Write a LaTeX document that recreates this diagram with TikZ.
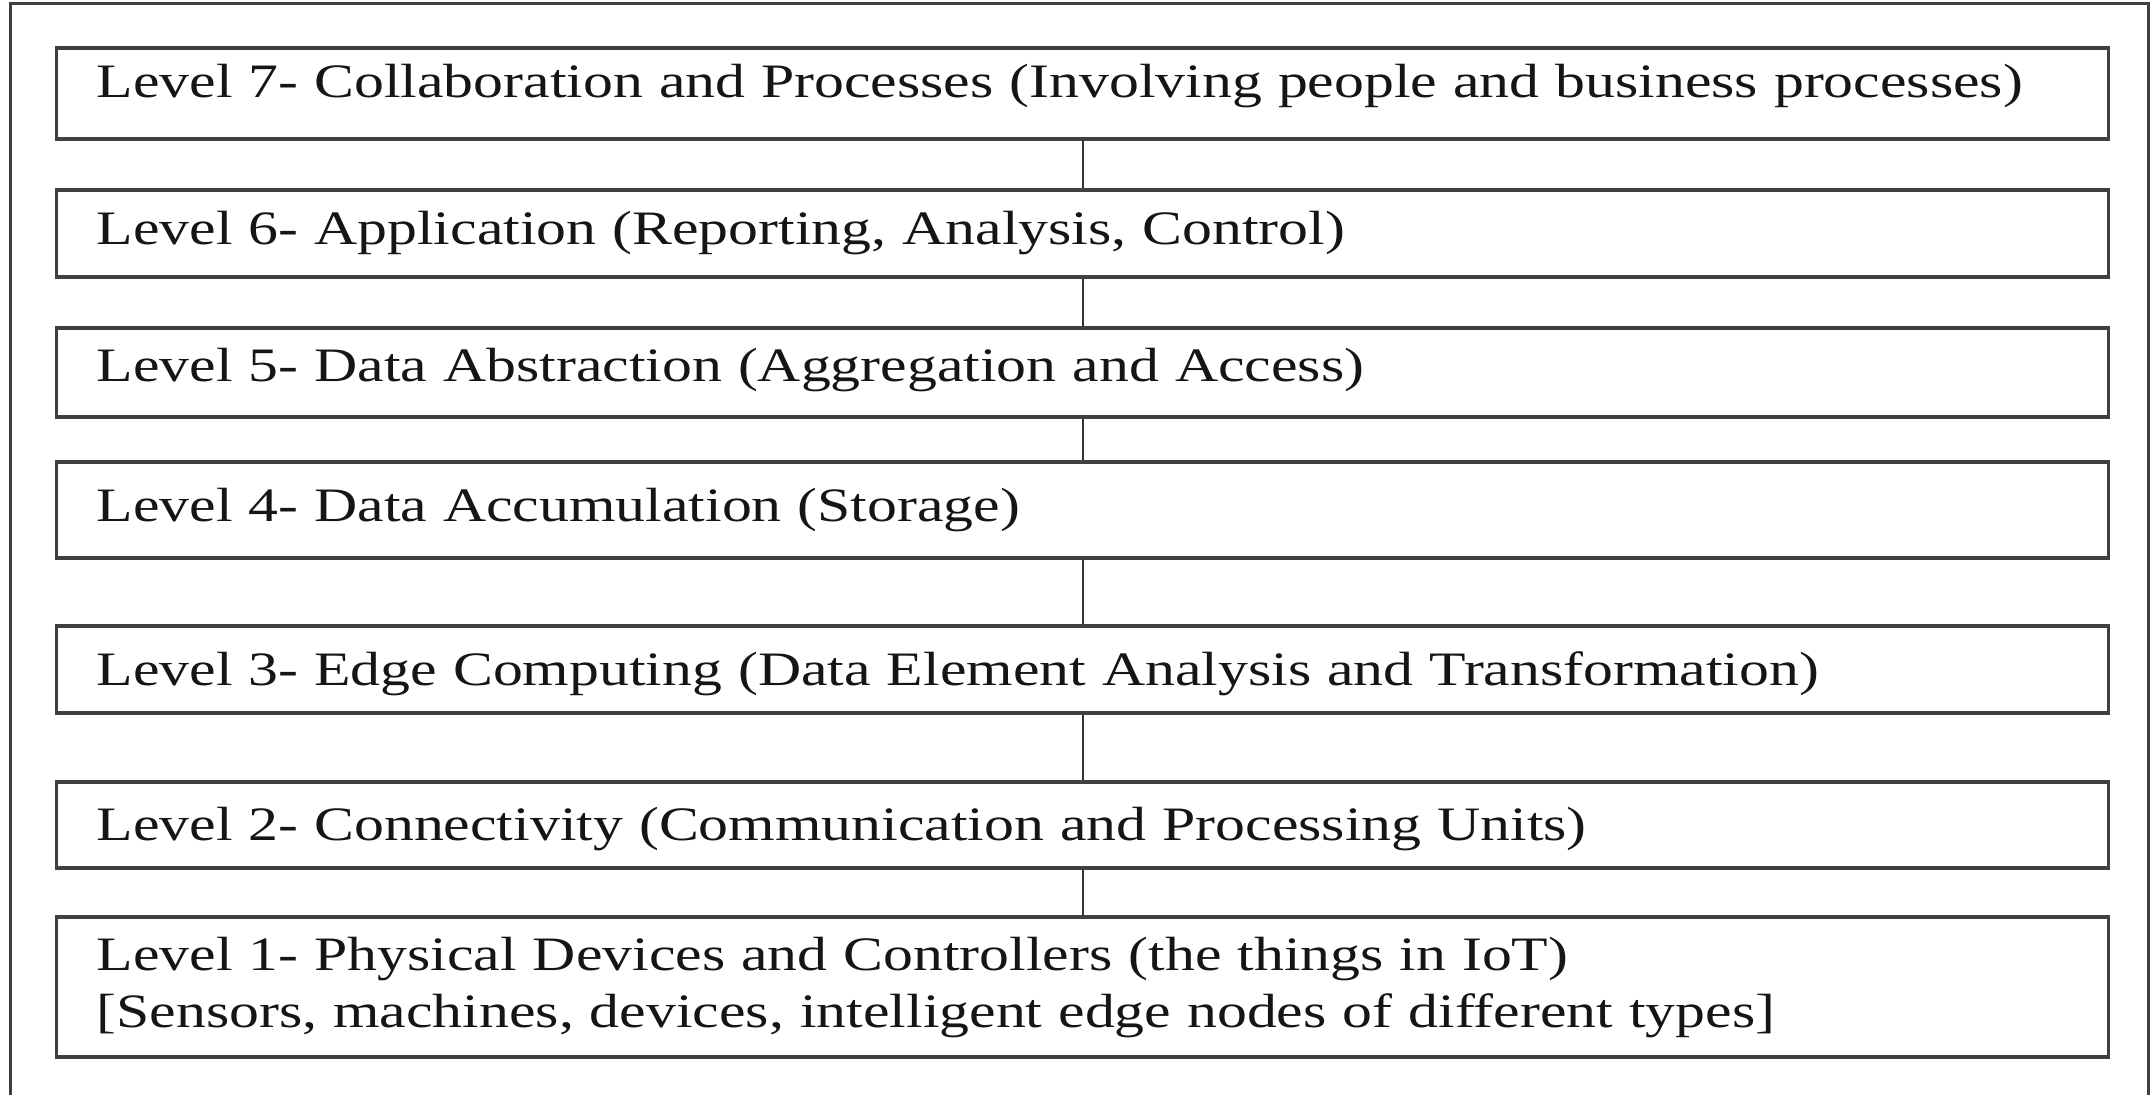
\documentclass[tikz,border=0pt]{standalone}
\usepackage{fontspec}
\setmainfont{Liberation Serif}[FakeStretch=1.245]
\usepackage{tikz}

\definecolor{boxline}{HTML}{404040}
\definecolor{txt}{HTML}{151515}

\tikzset{
  levelbox/.style 2 args={rectangle, draw=boxline, line width=1.6pt, anchor=base west,
    text width=986pt, inner xsep=20pt, inner ysep=0pt, align=left,
    text height=#1, text depth=#2, text=txt, font=\fontsize{24}{28.5}\selectfont},
}

\begin{document}
\begin{tikzpicture}[x=0.5pt, y=-0.5pt]
    \clip (0,0) rectangle (2151,1095);
    \useasboundingbox (0,0) rectangle (2151,1095);

    % 外枠(下辺は画像の外)
    \draw[boxline, line width=1.5pt] (10,1120) -- (10,4) -- (2148,4) -- (2148,1120);

    % ノードの定義
    \node[levelbox={25pt}{20.5pt}] (lvl7) at (55,98) {Level 7- Collaboration and Processes (Involving people and business processes)};
    \node[levelbox={27.5pt}{16pt}] (lvl6) at (55,245) {Level 6- Application (Reporting, Analysis, Control)};
    \node[levelbox={27pt}{17.5pt}] (lvl5) at (55,382) {Level 5- Data Abstraction (Aggregation and Access)};
    \node[levelbox={30pt}{18pt}] (lvl4) at (55,522) {Level 4- Data Accumulation (Storage)};
    \node[levelbox={29.5pt}{14pt}] (lvl3) at (55,685) {Level 3- Edge Computing (Data Element Analysis and Transformation)};
    \node[levelbox={29pt}{14pt}] (lvl2) at (55,840) {Level 2- Connectivity (Communication and Processing Units)};
    \node[levelbox={26.5pt}{43.5pt}] (lvl1) at (55,970) {Level 1- Physical Devices and Controllers (the things in IoT)\\
      {[}Sensors, machines, devices, intelligent edge nodes of different types{]}};

    % エッジの定義
    \draw[black!80, line width=1pt] (lvl7) -- (lvl6);
    \draw[black!80, line width=1pt] (lvl6) -- (lvl5);
    \draw[black!80, line width=1pt] (lvl5) -- (lvl4);
    \draw[black!80, line width=1pt] (lvl4) -- (lvl3);
    \draw[black!80, line width=1pt] (lvl3) -- (lvl2);
    \draw[black!80, line width=1pt] (lvl2) -- (lvl1);
\end{tikzpicture}
\end{document}
